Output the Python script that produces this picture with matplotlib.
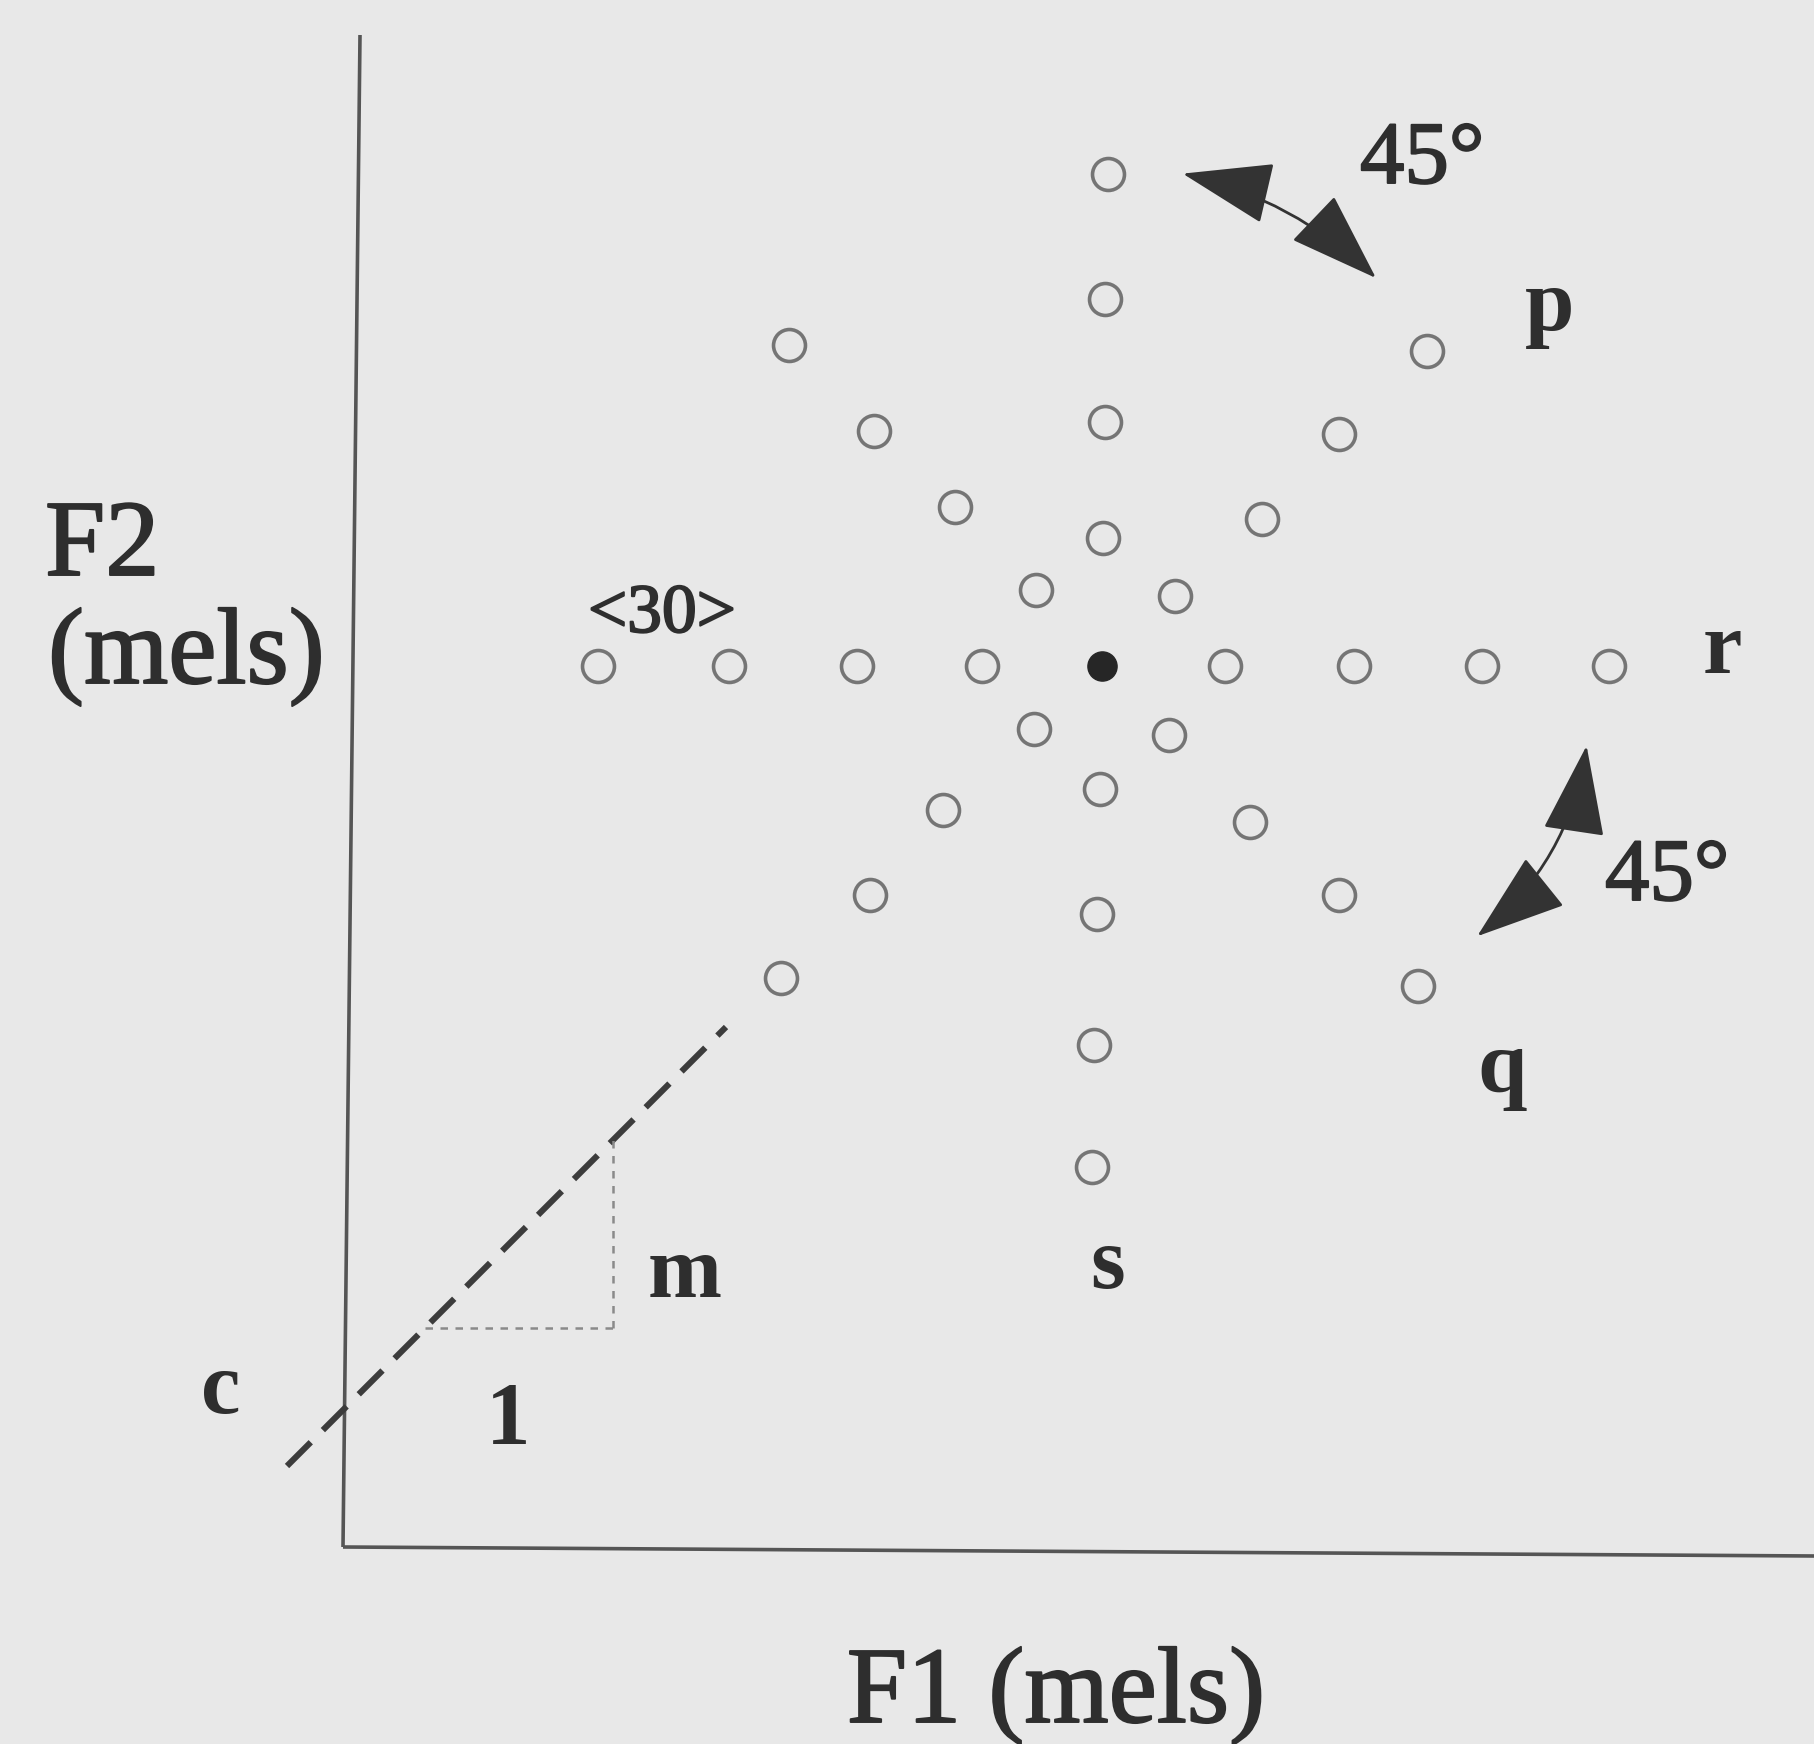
import numpy as np
import matplotlib
matplotlib.use("Agg")
import matplotlib.pyplot as plt
import matplotlib.patheffects as pe
from matplotlib.patches import FancyArrowPatch, ArrowStyle

# stimulus grid in the F1/F2 plane (arbitrary mel units, origin at axis corner)
centre_f1 = [759]
centre_f2 = [881]

# horizontal row (left then right of centre)
row_f1 = [255, 386, 514, 639, 882, 1011, 1139, 1266]
row_f2 = [881, 881, 881, 881, 881, 881, 881, 881]
# vertical column (up then down)
col_f1 = [765, 762, 762, 760, 757, 754, 751, 749]
col_f2 = [1373, 1248, 1125, 1009, 758, 633, 502, 380]
# diagonals
ul_f1 = [693, 612, 531, 446]
ul_f2 = [957, 1040, 1116, 1202]
ur_f1 = [832, 919, 996, 1084]
ur_f2 = [951, 1028, 1113, 1196]
dl_f1 = [691, 600, 527, 438]
dl_f2 = [818, 737, 652, 569]
dr_f1 = [826, 907, 996, 1075]
dr_f2 = [812, 725, 652, 561]

# dashed reference line F2 = c + m*F1
c_int = 137
m_slope = 1.0
line_f1 = [-56, 383]
tri_f1 = [82, 270]
tri_f2 = 219

# axis lines (scan is slightly skewed)
yaxis_f1 = [17, 0]
yaxis_f2 = [1512, 0]
xaxis_f1 = [0, 1472]
xaxis_f2 = [0, -9]

bg = "#e8e8e8"
ink = "#2e2e2e"
serif = ["Liberation Serif", "DejaVu Serif"]
thick = [pe.withStroke(linewidth=1.4, foreground=ink)]

fig = plt.figure(figsize=(18.15, 17.44), dpi=100, facecolor=bg)
ax = fig.add_axes([0, 0, 1, 1])
ax.set_facecolor(bg)
ax.set_xlim(-343, 1472)
ax.set_ylim(-197, 1547)
ax.axis("off")

# axes
ax.plot(yaxis_f1, yaxis_f2, color="#555555", lw=2.6, solid_capstyle="butt")
ax.plot(xaxis_f1, xaxis_f2, color="#555555", lw=2.6, solid_capstyle="butt")

# open circles
f1_all = row_f1 + col_f1 + ul_f1 + ur_f1 + dl_f1 + dr_f1
f2_all = row_f2 + col_f2 + ul_f2 + ur_f2 + dl_f2 + dr_f2
ax.plot(f1_all, f2_all, "o", ms=23, mfc="none", mec="#757575", mew=2.6, ls="none")
ax.plot(centre_f1, centre_f2, "o", ms=21, mfc="#262626", mec="#262626", ls="none")

# dashed line and slope triangle
lf1 = np.array(line_f1)
ax.plot(lf1, c_int + m_slope * lf1, color="#3c3c3c", lw=4.4, dashes=(5.5, 2.8))
ax.plot([tri_f1[0], tri_f1[1]], [tri_f2, tri_f2], color="#8a8a8a", lw=1.8, dashes=(3, 3))
ax.plot([tri_f1[1], tri_f1[1]], [tri_f2, c_int + m_slope * tri_f1[1]], color="#8a8a8a", lw=1.8, dashes=(3, 3))

# 45 degree rotation arrows
style = ArrowStyle("<|-|>", head_length=2.9, head_width=1.0)
a1 = FancyArrowPatch((837, 1374), (1035, 1267), arrowstyle=style, mutation_scale=20,
                     connectionstyle="arc3,rad=-0.14", color="#333333", lw=2.0)
a2 = FancyArrowPatch((1132, 609), (1244, 804), arrowstyle=style, mutation_scale=20,
                     connectionstyle="arc3,rad=0.2", color="#333333", lw=2.0)
ax.add_patch(a1)
ax.add_patch(a2)

# labels
ax.text(-298, 972, "F2", fontsize=78, family=serif, color=ink, ha="left", va="baseline", path_effects=thick)
ax.text(-295, 864, "(mels)", fontsize=78, family=serif, color=ink, ha="left", va="baseline", path_effects=thick)
ax.text(713, -175, "F1 (mels)", fontsize=78, family=serif, color=ink, ha="center", va="baseline", path_effects=thick)
ax.text(319, 915, "<30>", fontsize=50, family=serif, color=ink, ha="center", va="baseline", path_effects=thick)
ax.text(1017, 1364, "45°", fontsize=64, family=serif, color=ink, ha="left", va="baseline", path_effects=thick)
ax.text(1262, 647, "45°", fontsize=64, family=serif, color=ink, ha="left", va="baseline", path_effects=thick)

for s, x, y in [("p", 1207, 1217), ("r", 1379, 874), ("q", 1159, 455), ("s", 765, 259),
                ("m", 342, 250), ("1", 165, 104), ("c", -122, 134)]:
    ax.text(x, y, s, fontsize=64, family=serif, weight="bold", color=ink,
            ha="center", va="baseline")

fig.savefig("out.png", dpi=100, facecolor=bg)
